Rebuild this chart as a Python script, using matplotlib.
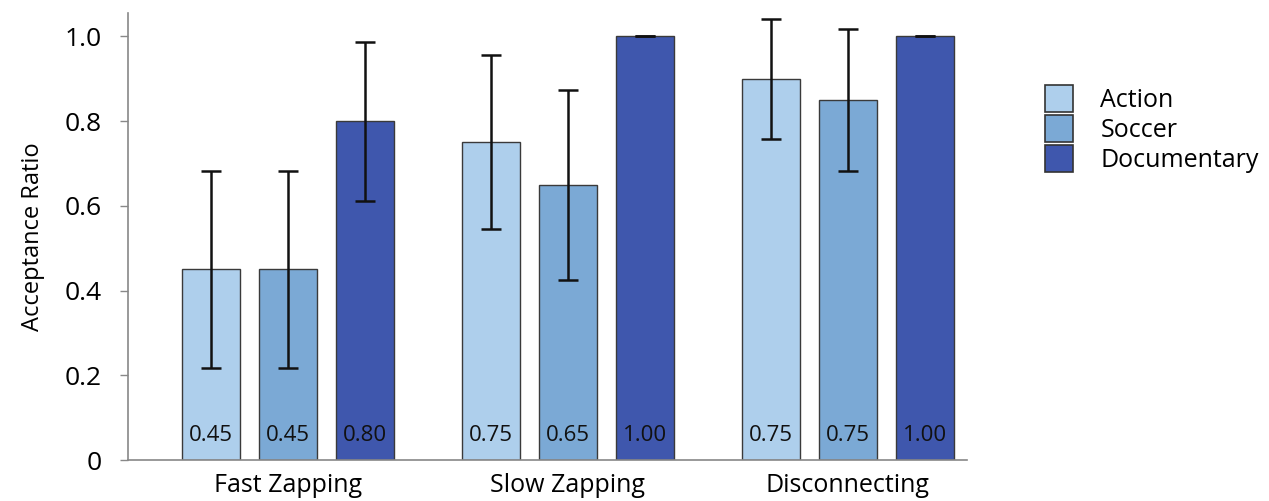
import numpy as np
import matplotlib
matplotlib.use("Agg")
import matplotlib.pyplot as plt
from matplotlib.patches import Patch

plt.rcParams['font.family'] = ['Open Sans', 'DejaVu Sans']

# data
groups = ['Fast Zapping', 'Slow Zapping', 'Disconnecting']
series = ['Action', 'Soccer', 'Documentary']
values = {
    'Action': [0.45, 0.75, 0.90],
    'Soccer': [0.45, 0.65, 0.85],
    'Documentary': [0.80, 1.00, 1.00],
}
errors = {
    'Action': [0.233, 0.205, 0.141],
    'Soccer': [0.233, 0.224, 0.168],
    'Documentary': [0.188, 0.0, 0.0],
}
# labels printed inside the bars (as shown in the original)
bar_labels = {
    'Action': ['0.45', '0.75', '0.75'],
    'Soccer': ['0.45', '0.65', '0.75'],
    'Documentary': ['0.80', '1.00', '1.00'],
}
colors = {'Action': '#AECFEC', 'Soccer': '#7BA9D5', 'Documentary': '#3F57AD'}

fig = plt.figure(figsize=(12.69, 5.01), dpi=100)
ax = fig.add_axes([0.1009, 0.0818, 0.661, 0.892])

x = np.arange(len(groups))
step = 0.275
width = 0.205
for i, s in enumerate(series):
    xs = x + (i - 1) * step
    ax.bar(xs, values[s], width, color=colors[s], edgecolor='#3a3a3a', linewidth=1.0, zorder=2)
    ax.errorbar(xs, values[s], yerr=errors[s], fmt='none', ecolor='#111111',
                elinewidth=1.8, capsize=7, capthick=1.8, zorder=3)
    for xi, lab in zip(xs, bar_labels[s]):
        ax.text(xi, 0.057, lab, ha='center', va='center', fontsize=16, color='#111111', zorder=4)

ax.set_xlim(-0.571, 2.425)
ax.set_ylim(0, 1.055)
ax.set_xticks(x)
ax.set_xticklabels(groups, fontsize=18)
ax.tick_params(axis='x', length=0, pad=9)
ax.set_yticks([0, 0.2, 0.4, 0.6, 0.8, 1.0])
ax.set_yticklabels(['0', '0.2', '0.4', '0.6', '0.8', '1.0'], fontsize=19)
ax.tick_params(axis='y', length=6, width=1, color='#888888', pad=13)
ax.set_ylabel('Acceptance Ratio', fontsize=17, labelpad=14)

for side in ['top', 'right']:
    ax.spines[side].set_visible(False)
ax.spines['left'].set_color('#888888')
ax.spines['bottom'].set_color('#888888')
ax.spines['left'].set_linewidth(1.2)
ax.spines['bottom'].set_linewidth(1.2)

handles = [Patch(facecolor=colors[s], edgecolor='#333333', linewidth=1.2) for s in series]
fig.legend(handles, series, loc='upper left', bbox_to_anchor=(0.806, 0.875), frameon=False,
           fontsize=18, handlelength=1.1, handleheight=1.25, handletextpad=1.1, labelspacing=0.1)

fig.savefig('out.png', dpi=100)
